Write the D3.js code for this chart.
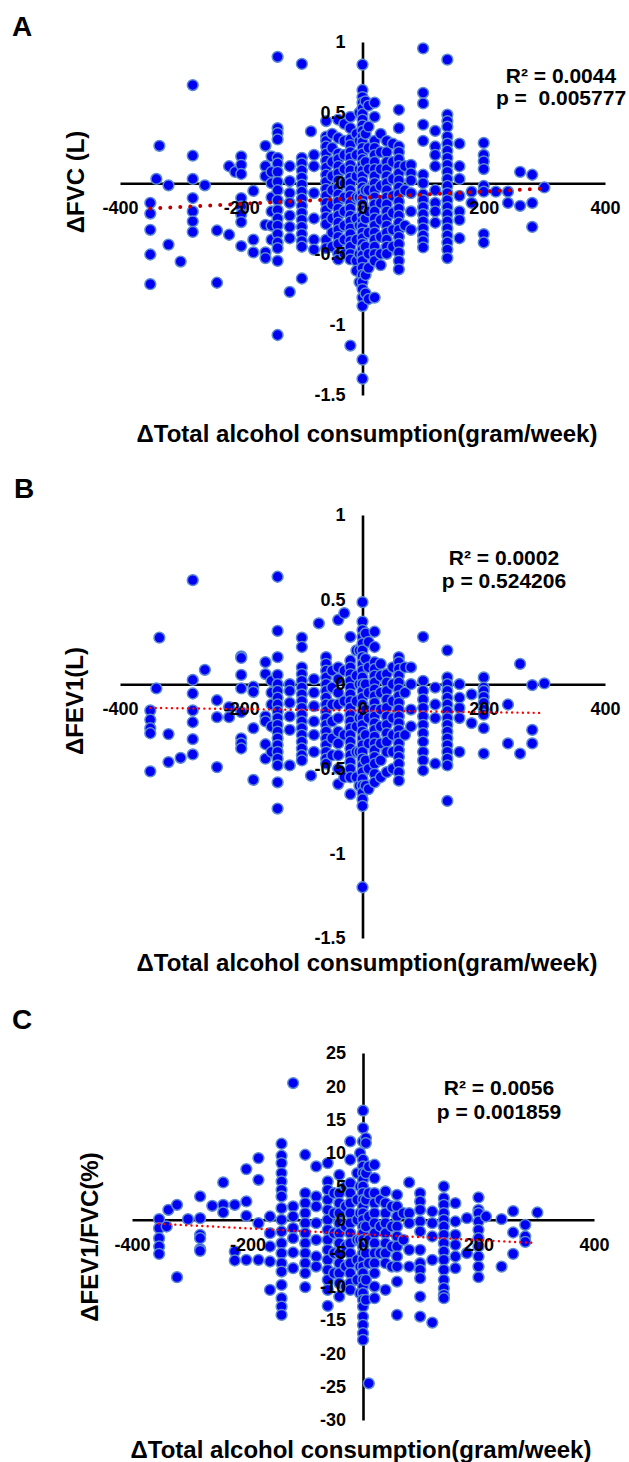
<!DOCTYPE html>
<html>
<head>
<script src="https://cdn.jsdelivr.net/npm/d3@7"></script>
<style>
  body { margin: 0; background: #fff; }
  text { font-family: "Liberation Sans", Arial, sans-serif; font-weight: bold; fill: #000; }
  .axis path { stroke: #000; stroke-width: 2.6; }
  .axis text { font-size: 18px; font-family: "Liberation Sans", Arial, sans-serif; font-weight: bold; }
  .stat { font-size: 21px; white-space: pre; }
  .title { font-size: 24px; }
  .letter { font-size: 28px; }
</style>
</head>
<body>
<script>
// tick values
const xTicks = [-400, -200, 0, 200, 400];
const lungTicks = [1, 0.5, 0, -0.5, -1, -1.5];
const ratioTicks = [25, 20, 15, 10, 5, 0, -5, -10, -15, -20, -25, -30];
const xTitle = "ΔTotal alcohol consumption(gram/week)";

// each entry: [change in alcohol (g/week), list of changes read at that x]
const fvcColumns = [
  [-350, [-0.14, -0.215, -0.33, -0.505, -0.715]],
  [-340, [0.03]],
  [-335, [0.265]],
  [-320, [-0.015, -0.435]],
  [-300, [-0.555]],
  [-280, [0.695, 0.195, 0.03, -0.105, -0.2, -0.27, -0.345]],
  [-260, [-0.015]],
  [-240, [-0.335, -0.705]],
  [-220, [0.12, -0.365]],
  [-210, [0.08]],
  [-200, [0.19, 0.13, 0.065, -0.105, -0.165, -0.22, -0.275, -0.445]],
  [-180, [-0.055, -0.4, -0.49]],
  [-160, [0.265, 0.12, 0.05, -0.295, -0.49, -0.53]],
  [-150, [0.19, 0.08, 0.0, -0.1, -0.2, -0.3, -0.4]],
  [-140, [0.895, 0.39, 0.355, 0.31, 0.18, 0.14, 0.08, 0.01, -0.05, -0.12, -0.19, -0.25, -0.3, -0.36, -0.42, -0.46, -0.55, -1.075]],
  [-120, [0.12, 0.015, -0.07, -0.14, -0.23, -0.31, -0.39, -0.77]],
  [-100, [0.845, 0.18, 0.14, 0.09, 0.04, -0.01, -0.06, -0.11, -0.16, -0.21, -0.26, -0.31, -0.36, -0.41, -0.45, -0.675]],
  [-85, [0.367]],
  [-80, [0.2, 0.12, -0.07, -0.25, -0.4, -0.47]],
  [-60, [0.44, 0.33, 0.3, 0.26, 0.21, 0.16, 0.11, 0.06, 0.01, -0.04, -0.09, -0.14, -0.19, -0.24, -0.29, -0.4, -0.46]],
  [-50, [0.35, 0.25, 0.15, 0.05, -0.05, -0.15, -0.25, -0.35, -0.45]],
  [-40, [0.45, 0.32, 0.21, 0.17, 0.12, 0.07, 0.02, -0.03, -0.08, -0.13, -0.18, -0.23, -0.28, -0.33, -0.38, -0.43, -0.5, -0.54]],
  [-30, [0.42, 0.3, 0.2, 0.1, 0.0, -0.1, -0.2, -0.3, -0.4, -0.5]],
  [-20, [0.47, 0.39, 0.31, 0.27, 0.22, 0.18, 0.13, 0.09, 0.04, 0.0, -0.05, -0.09, -0.14, -0.18, -0.23, -0.27, -0.32, -0.36, -0.41, -0.45, -0.5, -0.54, -1.15]],
  [-10, [0.35, 0.2, 0.05, -0.1, -0.25, -0.4, -0.55, -0.62]],
  [-5, [0.5, 0.3, 0.1, -0.1, -0.3, -0.5, -0.7]],
  [0, [0.84, 0.66, 0.61, 0.57, 0.53, 0.49, 0.45, 0.41, 0.37, 0.33, 0.29, 0.25, 0.21, 0.17, 0.13, 0.09, 0.05, 0.01, -0.03, -0.07, -0.11, -0.15, -0.19, -0.23, -0.27, -0.31, -0.35, -0.39, -0.43, -0.47, -0.51, -0.55, -0.6, -0.65, -0.7, -0.75, -0.81, -0.87, -1.25, -1.385]],
  [5, [0.58, 0.35, 0.15, -0.05, -0.25, -0.45, -0.65, -0.78]],
  [10, [0.55, 0.4, 0.25, 0.1, -0.05, -0.2, -0.35, -0.5, -0.6, -0.82]],
  [20, [0.57, 0.47, 0.3, 0.25, 0.2, 0.15, 0.1, 0.05, 0.0, -0.05, -0.1, -0.15, -0.2, -0.25, -0.3, -0.35, -0.4, -0.45, -0.5, -0.55, -0.81]],
  [30, [0.35, 0.22, 0.1, -0.02, -0.14, -0.26, -0.38, -0.5, -0.58]],
  [40, [0.3, 0.22, 0.15, 0.1, 0.05, 0.0, -0.05, -0.1, -0.15, -0.2, -0.25, -0.3, -0.35, -0.4, -0.45, -0.5]],
  [50, [0.28, 0.15, 0.03, -0.09, -0.21, -0.33, -0.45]],
  [60, [0.52, 0.39, 0.26, 0.22, 0.17, 0.12, 0.07, 0.02, -0.03, -0.08, -0.13, -0.18, -0.23, -0.28, -0.33, -0.38, -0.43, -0.49, -0.55, -0.61]],
  [70, [0.12, -0.05, -0.3]],
  [80, [0.13, 0.07, 0.02, -0.07, -0.2, -0.33]],
  [100, [0.955, 0.64, 0.565, 0.415, 0.3, 0.06, 0.0, -0.08, -0.12, -0.17, -0.22, -0.27, -0.32, -0.37, -0.41, -0.455]],
  [120, [0.37, 0.26, 0.2, 0.12, -0.05, -0.14, -0.2, -0.28]],
  [140, [0.875, 0.485, 0.44, 0.4, 0.33, 0.28, 0.23, 0.18, 0.13, 0.08, 0.03, -0.02, -0.07, -0.12, -0.17, -0.22, -0.27, -0.32, -0.37, -0.42, -0.47, -0.53]],
  [160, [0.28, 0.12, 0.03, -0.09, -0.2, -0.26, -0.39]],
  [180, [-0.06, -0.14]],
  [200, [0.285, 0.2, 0.155, 0.1, -0.02, -0.06, -0.36, -0.42]],
  [220, [-0.06]],
  [240, [-0.06, -0.14]],
  [260, [0.08, -0.16]],
  [280, [0.06, -0.14, -0.31]],
  [300, [-0.03]]
];

const fev1Columns = [
  [-350, [-0.155, -0.21, -0.26, -0.29, -0.515]],
  [-340, [-0.025]],
  [-335, [0.275]],
  [-320, [-0.295, -0.46]],
  [-300, [-0.435]],
  [-280, [0.615, 0.025, -0.055, -0.155, -0.225, -0.325, -0.415]],
  [-260, [0.085]],
  [-240, [-0.095, -0.195, -0.49]],
  [-220, [-0.135, -0.195]],
  [-200, [0.165, 0.155, 0.055, -0.025, -0.165, -0.32, -0.35, -0.38]],
  [-180, [-0.015, -0.045, -0.26, -0.565]],
  [-160, [0.13, 0.06, -0.19, -0.22, -0.355, -0.44]],
  [-150, [0.02, -0.05, -0.12, -0.25, -0.4]],
  [-140, [0.635, 0.315, 0.16, 0.055, 0.0, -0.04, -0.08, -0.12, -0.16, -0.2, -0.24, -0.28, -0.32, -0.36, -0.4, -0.44, -0.48, -0.58, -0.735]],
  [-120, [0.0, -0.04, -0.11, -0.19, -0.27, -0.48]],
  [-100, [0.275, 0.22, 0.1, 0.06, 0.02, -0.02, -0.06, -0.1, -0.14, -0.18, -0.22, -0.26, -0.3, -0.34, -0.38, -0.42, -0.45]],
  [-85, [-0.54]],
  [-80, [0.03, -0.05, -0.13, -0.22, -0.3, -0.4]],
  [-72, [0.36]],
  [-60, [0.16, 0.12, 0.08, 0.04, 0.0, -0.04, -0.08, -0.12, -0.16, -0.2, -0.24, -0.28, -0.32, -0.36, -0.4, -0.44, -0.47]],
  [-50, [0.08, -0.02, -0.12, -0.22, -0.32, -0.42]],
  [-40, [0.38, 0.1, 0.03, -0.05, -0.12, -0.2, -0.28, -0.35, -0.42, -0.5, -0.59]],
  [-30, [0.42, 0.08, -0.1, -0.3, -0.55]],
  [-20, [0.28, 0.14, 0.1, 0.06, 0.02, -0.02, -0.06, -0.1, -0.14, -0.18, -0.22, -0.26, -0.3, -0.34, -0.38, -0.42, -0.46, -0.5, -0.55, -0.65]],
  [-10, [0.2, 0.05, -0.1, -0.25, -0.4, -0.55]],
  [-5, [0.2, 0.0, -0.2, -0.4, -0.6]],
  [0, [0.485, 0.37, 0.32, 0.28, 0.24, 0.2, 0.16, 0.12, 0.08, 0.04, 0.0, -0.04, -0.08, -0.12, -0.16, -0.2, -0.24, -0.28, -0.32, -0.36, -0.4, -0.44, -0.48, -0.52, -0.56, -0.6, -0.64, -0.68, -0.72, -1.2]],
  [5, [0.3, 0.15, 0.0, -0.15, -0.3, -0.45, -0.6]],
  [10, [0.25, 0.1, -0.05, -0.2, -0.35, -0.5, -0.62]],
  [20, [0.31, 0.22, 0.13, 0.09, 0.05, 0.01, -0.03, -0.07, -0.11, -0.15, -0.19, -0.23, -0.27, -0.31, -0.35, -0.39, -0.43, -0.47, -0.53, -0.58]],
  [30, [0.12, 0.05, -0.05, -0.15, -0.25, -0.35, -0.45, -0.55]],
  [40, [0.06, 0.01, -0.04, -0.09, -0.14, -0.19, -0.24, -0.29, -0.34, -0.4, -0.52]],
  [50, [0.1, 0.0, -0.1, -0.2, -0.3, -0.4, -0.5]],
  [60, [0.16, 0.13, 0.09, 0.05, 0.01, -0.03, -0.07, -0.11, -0.15, -0.19, -0.23, -0.27, -0.31, -0.35, -0.39, -0.43, -0.47, -0.52, -0.57]],
  [70, [0.1, -0.05, -0.3]],
  [80, [0.1, 0.0, -0.15, -0.25]],
  [100, [0.28, 0.02, -0.04, -0.09, -0.14, -0.19, -0.24, -0.29, -0.34, -0.4, -0.45, -0.51]],
  [120, [-0.02, -0.12, -0.2, -0.47]],
  [140, [0.2, 0.04, 0.0, -0.04, -0.08, -0.12, -0.16, -0.2, -0.24, -0.28, -0.32, -0.36, -0.4, -0.44, -0.48, -0.69]],
  [160, [0.0, -0.08, -0.14, -0.2, -0.4]],
  [180, [-0.06, -0.23]],
  [200, [0.04, -0.02, -0.04, -0.075, -0.11, -0.15, -0.18, -0.26, -0.41]],
  [240, [-0.12, -0.35]],
  [260, [0.12, -0.41]],
  [280, [-0.005, -0.27, -0.35]],
  [300, [0.005]]
];

const ratioColumns = [
  [-353, [0.1, -1.25, -2.75, -4.0, -5.1]],
  [-340, [-1.0]],
  [-337, [1.5]],
  [-322, [2.25, -8.6]],
  [-303, [0.1]],
  [-282, [3.5, 0.25, -2.25, -2.75, -4.4, -4.65]],
  [-261, [2.1]],
  [-242, [5.6, 2.25, 1.1]],
  [-222, [2.25, -4.75, -6.1]],
  [-202, [7.6, 2.75, 0.6, -6.0]],
  [-181, [9.25, 6.0, -0.5, -6.0]],
  [-161, [0.5, -2.0, -4.0, -6.25, -10.5]],
  [-141, [11.4, 9.6, 8.5, 7.0, 5.75, 4.5, 3.5, 1.75, 0.0, -1.75, -3.5, -5.0, -6.5, -7.75, -9.75, -11.75, -13.0, -14.25]],
  [-121, [20.5, 2.0, 0.5, -1.25, -2.75, -4.9, -7.25]],
  [-100, [9.75, 4.0, 2.5, 1.0, -0.5, -2.0, -3.5, -5.0, -6.5, -8.0, -10.1]],
  [-81, [8.0, 3.5, 2.0, -0.5, -3.0, -5.5, -7.0]],
  [-61, [8.5, 5.75, 4.5, 3.0, 1.5, 0.0, -1.5, -3.0, -4.5, -6.0, -7.5, -9.0, -10.5, -12.9]],
  [-50, [4.0, 1.0, -2.0, -5.0, -8.0]],
  [-41, [6.75, 4.0, 2.5, 1.0, -0.5, -2.0, -3.5, -5.0, -6.5, -8.0, -9.5, -11.5]],
  [-30, [5.0, 2.0, -1.0, -4.0, -7.0, -10.0]],
  [-22, [11.75, 9.0, 5.5, 4.0, 2.5, 1.0, -0.5, -2.0, -3.5, -5.0, -6.5, -8.0, -9.5, -10.5]],
  [-10, [7.0, 3.0, 0.0, -3.0, -6.0, -9.0]],
  [-5, [10.0, 5.0, 1.0, -3.0, -7.0, -11.0]],
  [0, [16.35, 13.75, 11.75, 9.0, 8.0, 7.0, 6.0, 5.0, 4.0, 3.0, 2.0, 1.0, 0.0, -1.0, -2.0, -3.0, -4.0, -5.0, -6.0, -7.0, -8.0, -9.0, -10.0, -11.0, -12.0, -13.0, -14.5, -15.75, -17.0, -18.0]],
  [5, [12.25, 11.5, 7.0, 3.0, -1.0, -5.0, -9.0, -12.0]],
  [10, [8.0, 4.0, 0.5, -3.0, -6.5, -24.5]],
  [20, [8.25, 6.25, 4.0, 2.5, 1.0, -0.5, -2.0, -3.5, -5.0, -6.5, -8.0, -10.0, -11.75]],
  [30, [3.0, -1.0, -5.0]],
  [39, [4.25, 2.5, 1.0, -0.5, -2.0, -3.5, -5.0, -6.5, -10.5]],
  [50, [2.0, -1.0, -4.0, -7.0]],
  [59, [3.75, 2.0, 0.5, -1.0, -2.5, -4.0, -5.5, -7.0, -9.25, -14.25]],
  [70, [1.0, -3.0]],
  [80, [5.6, 1.0, -0.5, -4.5, -7.0]],
  [99, [4.0, 2.75, 1.5, -0.25, -1.75, -4.5, -6.5, -7.5, -8.75, -11.5, -14.5]],
  [120, [1.25, -0.5, -2.5, -6.0, -15.4]],
  [140, [5.0, 3.25, 2.25, 1.0, 0.0, -1.0, -2.25, -3.5, -4.75, -6.0, -7.5, -9.0, -10.25, -11.25, -11.75]],
  [160, [2.5, -0.25, -2.25, -3.75, -5.5, -7.25]],
  [180, [0.25, -5.0]],
  [200, [3.35, 1.5, 1.0, -0.25, -1.5, -2.75, -4.0, -5.5, -7.0, -8.6]],
  [213, [0.5]],
  [240, [0.1, -7.0]],
  [260, [1.3, -1.9, -5.1]],
  [281, [-0.75, -2.5, -3.3]],
  [302, [1.1]]
];

// fitted lines, end points [x, y]
const fvcTrend = [[-350, -0.18], [300, -0.037]];
const fev1Trend = [[-350, -0.14], [300, -0.17]];
const ratioTrend = [[-353, -0.6], [293, -3.45]];

const fvcStats = ["R\u00B2 = 0.0044", "p =  0.005777"];
const fev1Stats = ["R\u00B2 = 0.0002", "p = 0.524206"];
const ratioStats = ["R\u00B2 = 0.0056", "p = 0.001859"];

const svg = d3.select("body").append("svg")
  .attr("width", 629)
  .attr("height", 1462);

function drawPanel(p) {
  const x = d3.scaleLinear().domain([-400, 400]).range(p.xRange);
  const y = d3.scaleLinear().domain(p.yDomain).range(p.yRange);
  const g = svg.append("g");

  const xAxis = d3.axisBottom(x).tickValues(xTicks).tickSize(0).tickPadding(18).tickFormat(d => String(d));
  const yAxis = d3.axisLeft(y).tickValues(p.yTicks).tickSize(0).tickPadding(17).tickFormat(d => String(d));

  // axis lines under the dots
  g.append("g").attr("class", "axis").attr("transform", `translate(0,${y(0)})`)
    .call(xAxis).call(a => a.selectAll(".tick").remove());
  g.append("g").attr("class", "axis").attr("transform", `translate(${x(0)},0)`)
    .call(yAxis).call(a => a.selectAll(".tick").remove());

  const pts = p.columns.flatMap(([cx, ys]) => ys.map(v => ({ x: cx, y: v })));
  g.selectAll("circle").data(pts).enter().append("circle")
    .attr("cx", d => x(d.x))
    .attr("cy", d => y(d.y))
    .attr("r", 5.4)
    .attr("fill", "#0000f2")
    .attr("stroke", "#5b8bd3")
    .attr("stroke-width", 1.5);

  // tick labels on top
  g.append("g").attr("class", "axis").attr("transform", `translate(0,${y(0)})`)
    .call(xAxis).call(a => a.select(".domain").remove())
    .selectAll("text").attr("font-size", 18).attr("fill", "#000");
  g.append("g").attr("class", "axis").attr("transform", `translate(${x(0)},0)`)
    .call(yAxis).call(a => a.select(".domain").remove())
    .selectAll("text").attr("font-size", 18).attr("fill", "#000");

  const line = d3.line().x(d => x(d[0])).y(d => y(d[1]));
  g.append("path")
    .datum(p.trend)
    .attr("d", line)
    .attr("fill", "none")
    .attr("stroke", p.trendColor)
    .attr("stroke-width", p.dotSize)
    .attr("stroke-linecap", "round")
    .attr("stroke-dasharray", `0 ${p.dotGap}`);

  g.append("text").attr("class", "letter")
    .attr("x", p.letterPos[0]).attr("y", p.letterPos[1]).text(p.letter);

  p.stats.forEach((s, i) => {
    g.append("text").attr("class", "stat")
      .attr("x", p.statsPos[0]).attr("y", p.statsPos[1 + i])
      .attr("text-anchor", "middle").text(s);
  });

  g.append("text").attr("class", "title")
    .attr("x", p.xTitlePos[0]).attr("y", p.xTitlePos[1])
    .attr("text-anchor", "middle").text(xTitle);

  g.append("text").attr("class", "title")
    .attr("transform", `translate(${p.yTitlePos[0]},${p.yTitlePos[1]}) rotate(-90)`)
    .attr("text-anchor", "middle").text(p.yTitle);
}

drawPanel({
  letter: "A", letterPos: [12, 36],
  columns: fvcColumns, trend: fvcTrend, stats: fvcStats,
  yDomain: [-1.5, 1], yTicks: lungTicks,
  xRange: [120, 605], yRange: [395, 42],
  trendColor: "#c00000", dotSize: 4, dotGap: 10,
  statsPos: [561, 83, 105],
  xTitlePos: [367, 442], yTitle: "ΔFVC (L)", yTitlePos: [84, 182]
});

drawPanel({
  letter: "B", letterPos: [14, 498],
  columns: fev1Columns, trend: fev1Trend, stats: fev1Stats,
  yDomain: [-1.5, 1], yTicks: lungTicks,
  xRange: [120, 605], yRange: [938, 515],
  trendColor: "#ff0000", dotSize: 2.4, dotGap: 5.4,
  statsPos: [504, 565, 588],
  xTitlePos: [367, 971], yTitle: "ΔFEV1(L)", yTitlePos: [83, 701]
});

drawPanel({
  letter: "C", letterPos: [12, 1029],
  columns: ratioColumns, trend: ratioTrend, stats: ratioStats,
  yDomain: [-30, 25], yTicks: ratioTicks,
  xRange: [132, 594], yRange: [1420, 1053],
  trendColor: "#ff0000", dotSize: 2.4, dotGap: 5.4,
  statsPos: [499, 1095, 1119],
  xTitlePos: [361, 1458], yTitle: "ΔFEV1/FVC(%)", yTitlePos: [98, 1237]
});
</script>
</body>
</html>
